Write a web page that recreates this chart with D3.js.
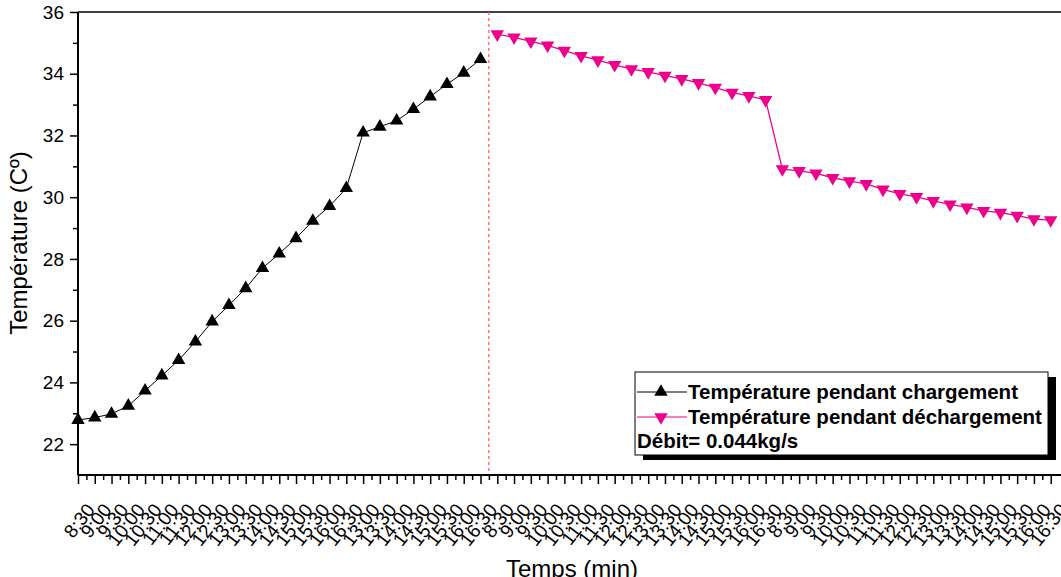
<!DOCTYPE html>
<html>
    <head>
        <meta charset="utf-8">
        <title>Température</title>
        <style>
            html, body {
                margin: 0px;
                padding: 0px;
                background-color: #fff;
                font-family: "Liberation Sans", Arial, sans-serif;
            }
            svg { display: block; }
            svg text { fill: #000; }
            .axis .domain { stroke: #000; stroke-width: 2px; }
            .axis line { stroke: #000; stroke-width: 1.5px; }
            .legend text { font-weight: bold; font-size: 20.5px; }
        </style>
        <script src="https://cdn.jsdelivr.net/npm/d3@7"></script>
    </head>
    <body>
        <div id="main"></div>

        <script>
            // x tick labels, one per measurement
            var timeLabels = [
                "8:30","9:00","9:30","10:00","10:30","11:00","11:30","12:00","12:30",
                "13:00","13:30","14:00","14:30","15:00","15:30","16:00","16:30",
                "13:00","13:30","14:00","14:30","15:00","15:30","16:00","16:30",
                "8:30","9:00","9:30","10:00","10:30","11:00","11:30","12:00","12:30",
                "13:00","13:30","14:00","14:30","15:00","15:30","16:00","16:30",
                "8:30","9:00","9:30","10:00","10:30","11:00","11:30","12:00","12:30",
                "13:00","13:30","14:00","14:30","15:00","15:30","16:00","16:30"
            ];
            var charge = [22.78, 22.86, 22.98, 23.24, 23.73, 24.22, 24.72, 25.32, 25.97,
                26.50, 27.05, 27.70, 28.17, 28.67, 29.23, 29.71, 30.29,
                32.09, 32.28, 32.48, 32.85, 33.26, 33.66, 34.03, 34.47];
            var discharge = [35.28, 35.18, 35.05, 34.92, 34.75, 34.58, 34.44, 34.29, 34.15,
                34.06, 33.94, 33.83, 33.70, 33.55, 33.39, 33.28, 33.15,
                30.91, 30.85, 30.77, 30.63, 30.52, 30.43, 30.25, 30.11,
                30.01, 29.88, 29.77, 29.67, 29.56, 29.50, 29.40, 29.29, 29.26];
            var yTicks = [22, 24, 26, 28, 30, 32, 34, 36];
            var yMinorTicks = [23, 25, 27, 29, 31, 33, 35];
            var splitAt = 24.5;

            var width = 1061;
            var height = 577;
            var mLeft = 78, mTop = 12, mRight = 1080, mBottom = 475;

            var svg = d3.select("#main").append("svg")
                .attr("width", width)
                .attr("height", height);

            var x = d3.scaleLinear().domain([0, timeLabels.length - 1]).range([mLeft, 1050.7]);
            var y = d3.scaleLinear().domain([21, 36]).range([mBottom, mTop]);

            // top frame
            svg.append("line")
                .attr("x1", mLeft).attr("x2", mRight)
                .attr("y1", mTop).attr("y2", mTop)
                .attr("stroke", "#000").attr("stroke-width", 1.5);

            // red separator
            svg.append("line")
                .attr("x1", x(splitAt)).attr("x2", x(splitAt))
                .attr("y1", mTop).attr("y2", mBottom)
                .attr("stroke", "#ff4d4d").attr("stroke-width", 1.2)
                .attr("stroke-dasharray", "3,3");

            // minor ticks
            svg.append("g")
                .attr("class", "axis")
                .attr("transform", "translate(0," + mBottom + ")")
                .call(d3.axisBottom(x).tickValues(d3.range(0.5, timeLabels.length - 1, 1)).tickSize(5).tickFormat(""))
                .select(".domain").remove();
            svg.append("g")
                .attr("class", "axis")
                .attr("transform", "translate(" + mLeft + ",0)")
                .call(d3.axisLeft(y).tickValues(yMinorTicks).tickSize(5).tickFormat(""))
                .select(".domain").remove();

            var xAxis = svg.append("g")
                .attr("class", "axis")
                .attr("transform", "translate(0," + mBottom + ")")
                .call(d3.axisBottom(x)
                    .tickValues(d3.range(timeLabels.length))
                    .tickSize(9)
                    .tickSizeOuter(0)
                    .tickFormat(function(i) { return timeLabels[i]; }));
            xAxis.select(".domain").attr("d", "M" + mLeft + ",0H" + mRight);
            xAxis.selectAll("text")
                .attr("y", 0).attr("dy", "0.35em")
                .attr("text-anchor", "end")
                .attr("transform", "translate(12,31) rotate(-52)")
                .style("font-size", "19px")
                .style("font-family", "'Liberation Sans', Arial, sans-serif");

            var yAxis = svg.append("g")
                .attr("class", "axis")
                .attr("transform", "translate(" + mLeft + ",0)")
                .call(d3.axisLeft(y).tickValues(yTicks).tickSize(8).tickSizeOuter(0).tickPadding(6));
            yAxis.select(".domain").attr("d", "M0," + mBottom + "V" + mTop);
            yAxis.selectAll("text")
                .style("font-size", "19px")
                .style("font-family", "'Liberation Sans', Arial, sans-serif");

            // series
            var line = d3.line()
                .x(function(d) { return x(d.i); })
                .y(function(d) { return y(d.v); });

            var chargeData = charge.map(function(v, i) { return {i: i, v: v}; });
            var dischargeData = discharge.map(function(v, i) { return {i: i + charge.length, v: v}; });

            svg.append("path").datum(chargeData)
                .attr("d", line).attr("fill", "none")
                .attr("stroke", "#000").attr("stroke-width", 1);
            svg.append("path").datum(dischargeData)
                .attr("d", line).attr("fill", "none")
                .attr("stroke", "#ec008c").attr("stroke-width", 1.3);

            var tri = d3.symbol().type(d3.symbolTriangle).size(78);

            svg.append("g").selectAll("path")
                .data(chargeData).enter().append("path")
                .attr("d", tri)
                .attr("fill", "#000")
                .attr("transform", function(d) { return "translate(" + x(d.i) + "," + y(d.v) + ")"; });

            svg.append("g").selectAll("path")
                .data(dischargeData).enter().append("path")
                .attr("d", tri)
                .attr("fill", "#ec008c")
                .attr("transform", function(d) { return "translate(" + x(d.i) + "," + y(d.v) + ") rotate(180)"; });

            // axis titles
            svg.append("text")
                .attr("transform", "translate(27,243) rotate(-90)")
                .attr("text-anchor", "middle")
                .style("font-size", "24px")
                .text("Température (Cº)");

            svg.append("text")
                .attr("x", 572).attr("y", 577)
                .attr("text-anchor", "middle")
                .style("font-size", "24px")
                .text("Temps (min)");

            // legend
            var lg = svg.append("g").attr("class", "legend");
            lg.append("rect")
                .attr("x", 643).attr("y", 377).attr("width", 413).attr("height", 83)
                .attr("fill", "#000");
            lg.append("rect")
                .attr("x", 635).attr("y", 372).attr("width", 413).attr("height", 83)
                .attr("fill", "#fff").attr("stroke", "#000").attr("stroke-width", 1);

            var rows = [
                {label: "Température pendant chargement", color: "#000", rot: 0, y: 392},
                {label: "Température pendant déchargement", color: "#ec008c", rot: 180, y: 417}
            ];
            rows.forEach(function(r) {
                lg.append("line")
                    .attr("x1", 637).attr("x2", 687)
                    .attr("y1", r.y).attr("y2", r.y)
                    .attr("stroke", r.color).attr("stroke-width", 1);
                lg.append("path")
                    .attr("d", tri)
                    .attr("fill", r.color)
                    .attr("transform", "translate(661," + r.y + ") rotate(" + r.rot + ")");
                lg.append("text")
                    .attr("x", 688).attr("y", r.y + 7)
                    .text(r.label);
            });
            lg.append("text")
                .attr("x", 637).attr("y", 448)
                .text("Débit= 0.044kg/s");
        </script>
    </body>
</html>
